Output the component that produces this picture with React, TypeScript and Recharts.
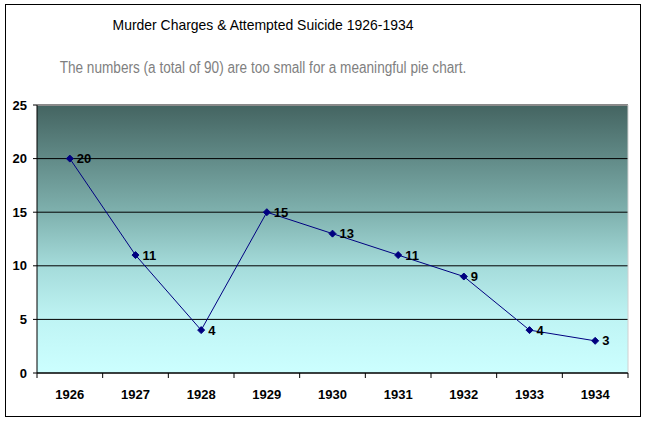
import { LineChart, Line, XAxis, YAxis, CartesianGrid, LabelList, ReferenceLine } from 'recharts'

const years = [1926, 1927, 1928, 1929, 1930, 1931, 1932, 1933, 1934]
const counts = [20, 11, 4, 15, 13, 11, 9, 4, 3]
const yTicks = [0, 5, 10, 15, 20, 25]
const bandEdges = [1925.5, 1926.5, 1927.5, 1928.5, 1929.5, 1930.5, 1931.5, 1932.5, 1933.5, 1934.5]

const data = years.map((year, i) => ({ year, count: counts[i] }))

const font = 'Arial, "Liberation Sans", sans-serif'

function Diamond(props: any) {
  const { cx, cy } = props
  if (cx == null || cy == null) return null
  const r = 3.5
  return (
    <polygon
      points={`${cx},${cy - r} ${cx + r},${cy} ${cx},${cy + r} ${cx - r},${cy}`}
      fill="#000080"
      stroke="#000080"
    />
  )
}

export default function App() {
  return (
    <div style={{ position: 'absolute', left: 0, top: 0, width: 650, height: 423, background: '#fff', fontFamily: font }}>
      <div
        style={{
          position: 'absolute',
          left: 5,
          top: 4,
          width: 636,
          height: 413,
          border: '1px solid #000',
          boxSizing: 'border-box',
        }}
      />
      <div
        style={{
          position: 'absolute',
          left: 0,
          width: 526,
          top: 16,
          textAlign: 'center',
          fontSize: 15,
          color: '#000',
          transform: 'scaleX(0.93)',
          transformOrigin: '263px 0',
        }}
      >
        Murder Charges &amp; Attempted Suicide 1926-1934
      </div>
      <div
        style={{
          position: 'absolute',
          left: 0,
          width: 526,
          top: 59,
          textAlign: 'center',
          fontSize: 16,
          color: '#7f7f7f',
          transform: 'scaleX(0.85)',
          transformOrigin: '263px 0',
        }}
      >
        The numbers (a total of 90) are too small for a meaningful pie chart.
      </div>
      <div style={{ position: 'absolute', left: 0, top: 0 }}>
        <LineChart width={650} height={423} data={data} margin={{ top: 105, right: 22, bottom: 19, left: 5 }}>
          <defs>
            <linearGradient id="bg" x1="0" y1="0" x2="0" y2="1">
              <stop offset="0%" stopColor="#446461" />
              <stop offset="40%" stopColor="#7fb1ae" />
              <stop offset="60%" stopColor="#a4dbda" />
              <stop offset="80%" stopColor="#bff4f4" />
              <stop offset="100%" stopColor="#ccffff" />
            </linearGradient>
          </defs>
          <CartesianGrid vertical={false} stroke="#000" strokeWidth={1} fill="url(#bg)" fillOpacity={1} />
          <XAxis
            xAxisId="edges"
            type="number"
            dataKey="year"
            domain={[1925.5, 1934.5]}
            ticks={bandEdges}
            tick={() => <g />}
            tickLine={{ stroke: '#000' }}
            tickSize={5}
            axisLine={{ stroke: '#000' }}
            height={1}
          />
          <XAxis
            xAxisId="labels"
            type="number"
            dataKey="year"
            domain={[1925.5, 1934.5]}
            ticks={years}
            tickLine={false}
            axisLine={false}
            height={30}
            tickMargin={10}
            tick={{ fill: '#000', fontSize: 13, fontWeight: 'bold', fontFamily: font }}
          />
          <YAxis
            domain={[0, 25]}
            ticks={yTicks}
            width={32}
            tickSize={4}
            tickMargin={6}
            axisLine={{ stroke: '#000' }}
            tickLine={{ stroke: '#000' }}
            tick={{ fill: '#000', fontSize: 13, fontWeight: 'bold', fontFamily: font }}
          />
          <ReferenceLine y={25} xAxisId="labels" stroke="#8a8a8a" strokeWidth={2} />
          <ReferenceLine x={1934.5} xAxisId="labels" stroke="#d0d0d0" />
          <Line
            xAxisId="labels"
            type="linear"
            dataKey="count"
            stroke="#000080"
            strokeWidth={1}
            dot={<Diamond />}
            activeDot={false}
            isAnimationActive={false}
          >
            <LabelList
              dataKey="count"
              position="right"
              offset={7}
              fill="#000"
              fontSize={13}
              fontWeight="bold"
              fontFamily={font}
            />
          </Line>
        </LineChart>
      </div>
    </div>
  )
}
